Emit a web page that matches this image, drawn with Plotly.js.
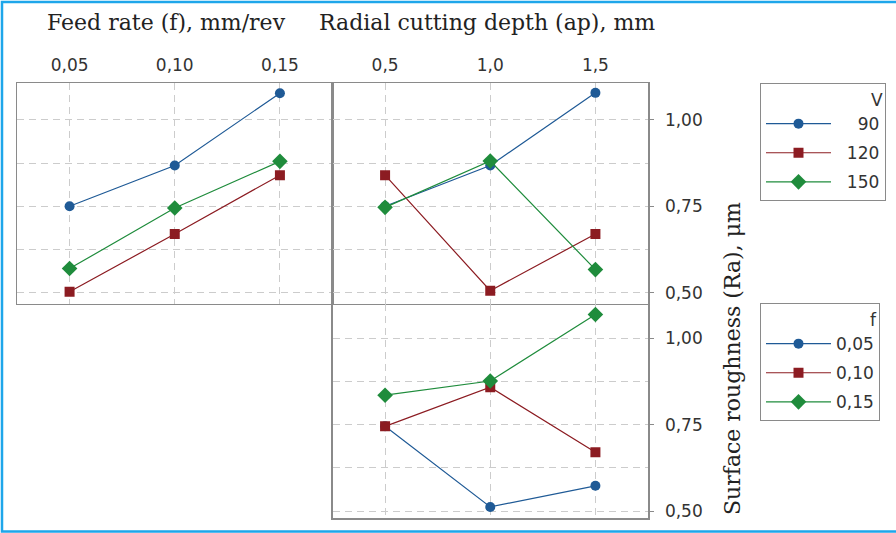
<!DOCTYPE html>
<html>
<head>
<meta charset="utf-8">
<script src="https://cdn.plot.ly/plotly-3.0.1.min.js"></script>
<style>html,body{margin:0;padding:0;background:#fff;}#chart{width:896px;height:533px;}</style>
</head>
<body>
<div id="chart"></div>
<script>
// ---- data ----
const fVals = [0.05, 0.10, 0.15];
const fLabels = ['0,05', '0,10', '0,15'];
const apVals = [0.5, 1.0, 1.5];
const apLabels = ['0,5', '1,0', '1,5'];
const vLevels = ['90', '120', '150'];
const fLevels = ['0,05', '0,10', '0,15'];
const raTicks = [0.50, 0.75, 1.00];
const raLabels = ['0,50', '0,75', '1,00'];

// Ra vs feed rate, per cutting speed V
const raVf_90  = [0.750, 0.868, 1.077];
const raVf_120 = [0.503, 0.670, 0.840];
const raVf_150 = [0.570, 0.745, 0.880];
// Ra vs radial depth, per cutting speed V
const raVap_90  = [0.750, 0.868, 1.078];
const raVap_120 = [0.840, 0.506, 0.670];
const raVap_150 = [0.747, 0.881, 0.567];
// Ra vs radial depth, per feed rate f
const raFap_005 = [0.745, 0.512, 0.573];
const raFap_010 = [0.745, 0.858, 0.670];
const raFap_015 = [0.835, 0.876, 1.068];

// ---- styling ----
const colors = ['#1f5a96', '#8c1c22', '#1f8c3c'];
const symbols = ['circle', 'square', 'diamond'];
const msize = [10, 10, 12];
const FIG = '\u2007';
const pad = s => FIG.repeat(Math.max(0, 4 - s.length)) + s;

const traces = [];
function addSeries(xs, ys, i, xa, ya, name, legend, show) {
  traces.push({
    type: 'scatter', mode: 'lines+markers',
    x: xs, y: ys, xaxis: xa, yaxis: ya,
    name: name, legend: legend, showlegend: show,
    legendgroup: legend + '_' + i,
    line: {color: colors[i], width: 1.2},
    marker: {color: colors[i], symbol: symbols[i], size: msize[i]},
    hoverinfo: 'x+y+name'
  });
}
const vf = [raVf_90, raVf_120, raVf_150];
const vap = [raVap_90, raVap_120, raVap_150];
const fap = [raFap_005, raFap_010, raFap_015];
vf.forEach((ys, i) => addSeries(fVals, ys, i, 'x', 'y', pad(vLevels[i]), 'legend', true));
vap.forEach((ys, i) => addSeries(apVals, ys, i, 'x2', 'y2', pad(vLevels[i]), 'legend', false));
fap.forEach((ys, i) => addSeries(apVals, ys, i, 'x3', 'y3', pad(fLevels[i]), 'legend2', true));

const W = 896, H = 533;
const px = v => v / W, py = v => 1 - v / H;
const lineCol = '#8a8a8a';
const gridCol = '#cccccc';
const tickFont = {family: 'DejaVu Sans', size: 17, color: '#333'};
const titleFont = {family: 'DejaVu Serif', size: 22, color: '#222'};

const xBase = {
  side: 'top', showline: true, mirror: true, linecolor: lineCol, linewidth: 1.5,
  showgrid: true, gridcolor: gridCol, griddash: '7px,5px', gridwidth: 1,
  ticks: '', zeroline: false, tickfont: tickFont, ticklabelstandoff: 4, fixedrange: true
};
const yBase = {
  showline: true, mirror: true, linecolor: lineCol, linewidth: 1.5,
  showgrid: true, gridcolor: gridCol, griddash: '7px,5px', gridwidth: 1,
  tickmode: 'array', tickvals: raTicks, ticktext: raLabels,
  minor: {dtick: 0.125, tick0: 0, showgrid: true, gridcolor: gridCol, griddash: '7px,5px', gridwidth: 1, ticks: ''},
  zeroline: false, tickfont: tickFont, fixedrange: true
};

const legendBase = {
  xanchor: 'left', yanchor: 'top',
  bgcolor: '#fff', bordercolor: '#8a8a8a', borderwidth: 1,
  font: tickFont, traceorder: 'grouped', tracegroupgap: 4, itemwidth: 65
};

const layout = {
  width: W, height: H,
  margin: {l: 0, r: 0, t: 0, b: 0},
  paper_bgcolor: '#fff', plot_bgcolor: '#fff',
  showlegend: true,
  xaxis: Object.assign({}, xBase, {domain: [px(17), px(332.5)], range: [0.025, 0.175], anchor: 'y',
    tickmode: 'array', tickvals: fVals, ticktext: fLabels}),
  xaxis2: Object.assign({}, xBase, {domain: [px(332.5), px(648)], range: [0.25, 1.75], anchor: 'y2',
    tickmode: 'array', tickvals: apVals, ticktext: apLabels}),
  xaxis3: Object.assign({}, xBase, {domain: [px(332.5), px(648)], range: [0.25, 1.75], anchor: 'y3',
    tickmode: 'array', tickvals: apVals, ticktext: apLabels, showticklabels: false,
    side: 'bottom', mirror: false}),
  yaxis: Object.assign({}, yBase, {domain: [py(303.5), py(83)], range: [0.469, 1.1065], anchor: 'x',
    showticklabels: false, ticks: ''}),
  yaxis2: Object.assign({}, yBase, {domain: [py(303.5), py(83)], range: [0.469, 1.1065], anchor: 'x2',
    side: 'right', ticks: 'outside', ticklen: 4, tickcolor: lineCol, ticklabelstandoff: 8}),
  yaxis3: Object.assign({}, yBase, {domain: [py(518), py(303.5)], range: [0.48, 1.10], anchor: 'x3',
    side: 'right', ticks: 'outside', ticklen: 4, tickcolor: lineCol, ticklabelstandoff: 8}),
  legend: Object.assign({}, legendBase, {x: px(760), y: py(83),
    title: {text: 'V', side: 'top right', font: tickFont}}),
  legend2: Object.assign({}, legendBase, {x: px(760), y: py(303),
    title: {text: 'f', side: 'top right', font: tickFont}}),
  annotations: [
    {text: 'Feed rate (f), mm/rev', xref: 'paper', yref: 'paper', x: px(166), y: py(22),
     xanchor: 'center', yanchor: 'middle', showarrow: false, font: titleFont},
    {text: 'Radial cutting depth (ap), mm', xref: 'paper', yref: 'paper', x: px(487), y: py(22),
     xanchor: 'center', yanchor: 'middle', showarrow: false, font: titleFont},
    {text: 'Surface roughness (Ra), μm', xref: 'paper', yref: 'paper', x: px(732), y: py(359),
     xanchor: 'center', yanchor: 'middle', textangle: -90, showarrow: false, font: titleFont}
  ],
  shapes: [
    {type: 'rect', xref: 'paper', yref: 'paper', x0: px(2), x1: 1.02, y0: py(531.5), y1: py(2),
     line: {color: '#1ea6ea', width: 2.5}, fillcolor: 'rgba(0,0,0,0)', layer: 'above'}
  ]
};

Plotly.newPlot('chart', traces, layout, {displayModeBar: false, staticPlot: true});
</script>
</body>
</html>
